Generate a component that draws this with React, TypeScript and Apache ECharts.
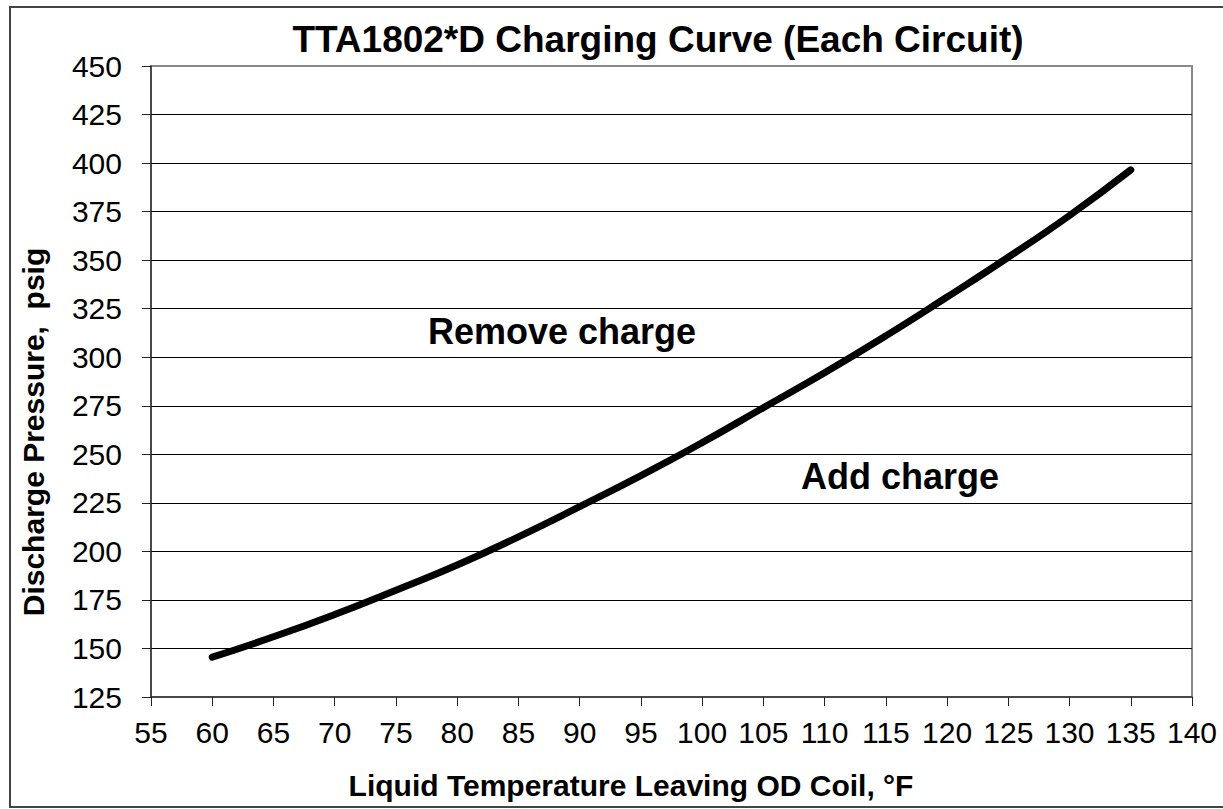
import React, { useEffect, useRef } from "react";
import * as echarts from "echarts";

const temperatures = [60, 65, 70, 75, 80, 85, 90, 95, 100, 105, 110, 115, 120, 125, 130, 135];
const pressures = [145.5, 156, 167.5, 180, 193, 207.5, 223, 239, 256, 274, 292, 311, 331, 351.5, 373, 396.5];

const titleText = "TTA1802*D Charging Curve (Each Circuit)";
const xAxisTitle = "Liquid Temperature Leaving OD Coil, °F";
const yAxisTitle = "Discharge Pressure,  psig";
const removeLabel = "Remove charge";
const addLabel = "Add charge";

const FONT = "'Liberation Sans', Arial, Helvetica, sans-serif";

export default function App() {
  const ref = useRef<HTMLDivElement>(null);
  useEffect(() => {
    if (!ref.current) return;
    const chart = echarts.init(ref.current, null, { renderer: "svg" });
    const data = temperatures.map((t, i) => [t, pressures[i]]);
    chart.setOption({
      animation: false,
      backgroundColor: "#ffffff",
      grid: {
        left: 151,
        top: 66,
        right: 31,
        bottom: 112,
        show: true,
        borderColor: "#8a8a8a",
        borderWidth: 2,
        backgroundColor: "transparent",
      },
      xAxis: {
        type: "value",
        min: 55,
        max: 140,
        interval: 5,
        axisLine: { show: true, lineStyle: { color: "#333", width: 1.5 } },
        axisTick: { show: true, length: 9, lineStyle: { color: "#222", width: 1 } },
        axisLabel: { color: "#000", fontFamily: FONT, fontSize: 30, margin: 20 },
        splitLine: { show: false },
      },
      yAxis: {
        type: "value",
        min: 125,
        max: 450,
        interval: 25,
        axisLine: { show: true, lineStyle: { color: "#333", width: 1.5 } },
        axisTick: { show: true, length: 9, lineStyle: { color: "#222", width: 1 } },
        axisLabel: { color: "#000", fontFamily: FONT, fontSize: 30, margin: 29 },
        splitLine: { show: true, showMaxLine: false, showMinLine: false, lineStyle: { color: "#000", width: 1 } },
      },
      series: [
        {
          type: "line",
          data,
          smooth: true,
          showSymbol: false,
          symbol: "none",
          lineStyle: { color: "#000", width: 7, cap: "round", join: "round" },
        },
      ],
      graphic: [
        {
          type: "rect",
          silent: true,
          shape: { x: 10, y: 7, width: 1300, height: 800 },
          style: { fill: "none", stroke: "#444", lineWidth: 2 },
          z: 0,
        },
        {
          type: "text",
          x: 658,
          y: 39,
          style: {
            text: titleText,
            font: `bold 37px ${FONT}`,
            fill: "#000",
            textAlign: "center",
            textVerticalAlign: "middle",
          },
        },
        {
          type: "text",
          x: 631,
          y: 785,
          style: {
            text: xAxisTitle,
            font: `bold 30px ${FONT}`,
            fill: "#000",
            textAlign: "center",
            textVerticalAlign: "middle",
          },
        },
        {
          type: "text",
          x: 33,
          y: 432,
          rotation: Math.PI / 2,
          style: {
            text: yAxisTitle,
            font: `bold 30px ${FONT}`,
            fill: "#000",
            textAlign: "center",
            textVerticalAlign: "middle",
          },
        },
        {
          type: "text",
          x: 428,
          y: 331,
          style: {
            text: removeLabel,
            font: `bold 36px ${FONT}`,
            fill: "#000",
            textAlign: "left",
            textVerticalAlign: "middle",
          },
        },
        {
          type: "text",
          x: 801,
          y: 476,
          style: {
            text: addLabel,
            font: `bold 36px ${FONT}`,
            fill: "#000",
            textAlign: "left",
            textVerticalAlign: "middle",
          },
        },
      ],
    });
    return () => chart.dispose();
  }, []);
  return (
    <div
      ref={ref}
      style={{ position: "absolute", left: 0, top: 0, width: 1223, height: 809, background: "#fff" }}
    />
  );
}
